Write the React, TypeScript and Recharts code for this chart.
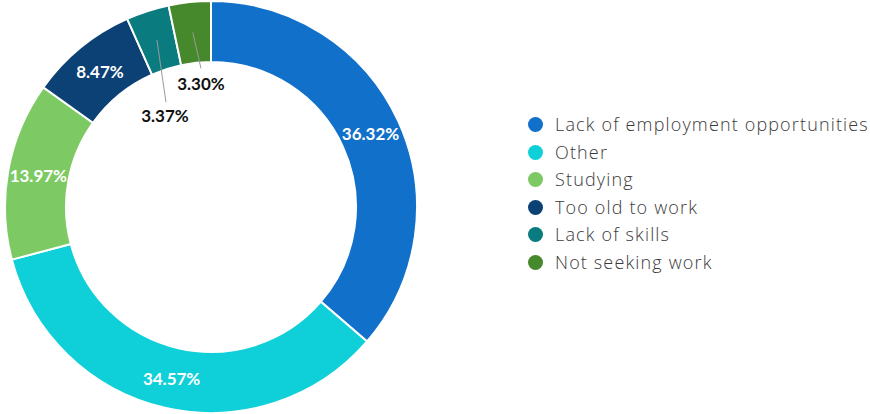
import React from 'react';
import { PieChart, Pie, Cell } from 'recharts';

const categories = [
  'Lack of employment opportunities',
  'Other',
  'Studying',
  'Too old to work',
  'Lack of skills',
  'Not seeking work',
];
const values = [36.32, 34.57, 13.97, 8.47, 3.37, 3.3];
const colors = ['#1170c9', '#0fd0d9', '#7dca64', '#0b4174', '#0a7b7e', '#46882c'];

// label styling: labels placed in the hole for small slices
const innerLabel = [false, false, false, false, true, true];
const lineAngleShift = [0, 0, 0, 0, 5.3, -1.8];
const lineEndRadius = [0, 0, 0, 0, 114, 139];
const textAngleShift = [0, 0, 0, 0, 8.9, -1.3];
const textRadius = [0, 0, 0, 0, 102, 124];

const data = categories.map((name, i) => ({ name, value: values[i] }));

const RAD = Math.PI / 180;
const labelStyle = { fontFamily: 'Lato', fontWeight: 700, fontSize: 17 };

const renderLabel = (props: any) => {
  const { cx, cy, midAngle, innerRadius, outerRadius, index, value } = props;
  const mid = (innerRadius + outerRadius) / 2;
  const text = `${value.toFixed(2)}%`;
  if (!innerLabel[index]) {
    const x = cx + mid * Math.cos(-midAngle * RAD);
    const y = cy + mid * Math.sin(-midAngle * RAD);
    return (
      <text x={x} y={y} fill="#ffffff" textAnchor="middle" dominantBaseline="central" style={labelStyle}>
        {text}
      </text>
    );
  }
  const x1 = cx + mid * Math.cos(-midAngle * RAD);
  const y1 = cy + mid * Math.sin(-midAngle * RAD);
  const a2 = midAngle + lineAngleShift[index];
  const x2 = cx + lineEndRadius[index] * Math.cos(-a2 * RAD);
  const y2 = cy + lineEndRadius[index] * Math.sin(-a2 * RAD);
  const a3 = midAngle + textAngleShift[index];
  const x3 = cx + textRadius[index] * Math.cos(-a3 * RAD);
  const y3 = cy + textRadius[index] * Math.sin(-a3 * RAD);
  return (
    <g>
      <line x1={x1} y1={y1} x2={x2} y2={y2} stroke="#9a9a9a" strokeWidth={1} />
      <text x={x3} y={y3} fill="#111111" textAnchor="middle" dominantBaseline="central" style={labelStyle}>
        {text}
      </text>
    </g>
  );
};

export default function App() {
  return (
    <div style={{ position: 'absolute', left: 0, top: 0, width: 870, height: 414, background: '#fff' }}>
      <PieChart width={870} height={414} margin={{ top: 0, right: 0, bottom: 0, left: 0 }}>
        <Pie
          data={data}
          dataKey="value"
          nameKey="name"
          cx={211}
          cy={207}
          innerRadius={145}
          outerRadius={206}
          startAngle={90}
          endAngle={-270}
          stroke="#ffffff"
          strokeWidth={2}
          label={renderLabel}
          labelLine={false}
          isAnimationActive={false}
        >
          {data.map((d, i) => (
            <Cell key={d.name} fill={colors[i]} />
          ))}
        </Pie>
      </PieChart>
      <div style={{ position: 'absolute', left: 528, top: 111, fontFamily: 'Open Sans', fontSize: 18, fontWeight: 300, letterSpacing: 1.15, color: '#3a3a3a' }}>
        {categories.map((c, i) => (
          <div key={c} style={{ display: 'flex', alignItems: 'center', height: 27.5 }}>
            <span style={{ display: 'inline-block', width: 15, height: 15, borderRadius: '50%', background: colors[i], marginRight: 12 }} />
            <span style={{ lineHeight: '27.5px', whiteSpace: 'nowrap' }}>{c}</span>
          </div>
        ))}
      </div>
    </div>
  );
}
